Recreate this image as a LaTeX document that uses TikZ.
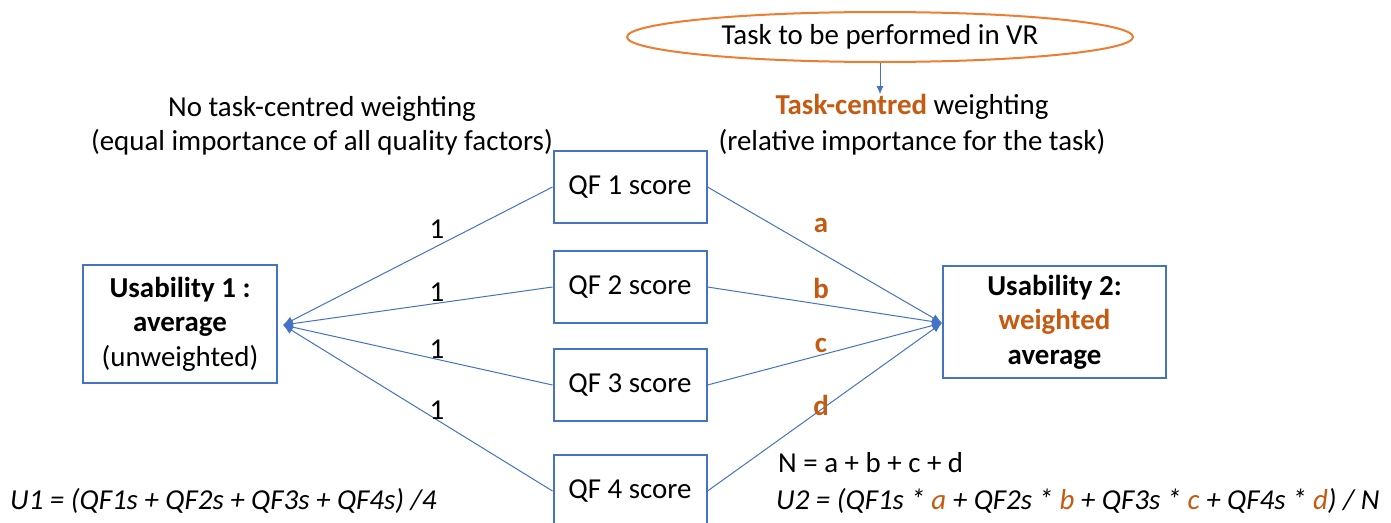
\documentclass[tikz,border=0pt]{standalone}
\usepackage{fontspec}
\setmainfont{Carlito}
\usetikzlibrary{arrows.meta,shapes.geometric}
\definecolor{oblue}{HTML}{4472C4}
\definecolor{oorange}{HTML}{C55A11}
\definecolor{lorange}{HTML}{ED7D31}
\begin{document}
\begin{tikzpicture}[x=1pt,y=-1pt, font=\fontsize{28.9}{34.5}\selectfont,
  box/.style={draw=oblue, line width=2pt, inner sep=0pt, align=center},
  qfbox/.style={box, minimum width=153pt, minimum height=72pt},
  link/.style={draw=oblue, line width=1pt, -{Latex[length=10pt,width=8pt]}},
  lab/.style={inner sep=0pt},
  wlab/.style={inner sep=0pt, text=oorange, font=\fontsize{28.9}{34.5}\selectfont\bfseries}]
\useasboundingbox (0,0) rectangle (1391,522);
\clip (0,0) rectangle (1391,522);
\fill[white] (0,0) rectangle (1391,522);

% top task ellipse
\node[draw=lorange, line width=2pt, ellipse, minimum width=506pt, minimum height=50pt, inner sep=0pt] (task) at (880,37) {Task to be performed in VR};
\node[lab] (tw1) at (912,107) {\textcolor{oorange}{\bfseries Task-centred} weighting};
\node[lab] (tw2) at (912,142) {(relative importance for the task)};
\draw[draw=oblue, line width=1pt, -{Latex[length=8pt,width=7pt]}] (task.south) -- (task.south |- tw1.north);

% left heading
\node[lab] (nw1) at (322,109) {No task-centred weighting};
\node[lab] (nw2) at (322,142) {(equal importance of all quality factors)};

% QF boxes
\node[qfbox] (q1) at (630,187) {\raisebox{-2pt}{QF 1 score}};
\node[qfbox] (q2) at (630,287) {\raisebox{-2pt}{QF 2 score}};
\node[qfbox] (q3) at (630,385) {\raisebox{-2pt}{QF 3 score}};
\node[qfbox] (q4) at (630,491) {\raisebox{-2pt}{QF 4 score}};

% usability boxes
\node[box, minimum width=194pt, minimum height=118pt] (u1) at (180,324)
  {\raisebox{-3pt}{\bfseries Usability 1 :}\\\raisebox{-3pt}{\bfseries average}\\\raisebox{-3pt}{(unweighted)}};
\node[box, minimum width=223pt, minimum height=112pt] (u2) at (1054.5,322)
  {\raisebox{-2pt}{\bfseries Usability 2:}\\\raisebox{-2pt}{\bfseries\color{oorange} weighted}\\\raisebox{-2pt}{\bfseries average}};

\coordinate (t1) at (283,325);
\coordinate (t2) at (942,323);

% links
\draw[link] (q1.west) -- (t1);
\draw[link] (q2.west) -- (t1);
\draw[link] (q3.west) -- (t1);
\draw[link] (q4.west) -- (t1);
\draw[link] (q1.east) -- (t2);
\draw[link] (q2.east) -- (t2);
\draw[link] (q3.east) -- (t2);
\draw[link] (q4.east) -- (t2);

% weight labels
\node[lab] (w1) at (437,229) {1};
\node[lab] (w2) at (437,292) {1};
\node[lab] (w3) at (437,349) {1};
\node[lab] (w4) at (437,410) {1};
\node[wlab] (wa) at (821,225) {a};
\node[wlab] (wb) at (821,288) {b};
\node[wlab] (wc) at (821,345) {c};
\node[wlab] (wd) at (821,405) {d};

% formulas
\node[lab, anchor=west] (f1) at (10,501) {\itshape U1 = (QF1s + QF2s + QF3s + QF4s) /4};
\node[lab, anchor=west] (nn) at (778,463) {N = a + b + c + d};
\node[lab, anchor=west] (f2) at (776,501) {\itshape U2 = (QF1s * \textcolor{oorange}{a} + QF2s * \textcolor{oorange}{b} + QF3s * \textcolor{oorange}{c} + QF4s * \textcolor{oorange}{d}) / N};
\end{tikzpicture}
\end{document}
